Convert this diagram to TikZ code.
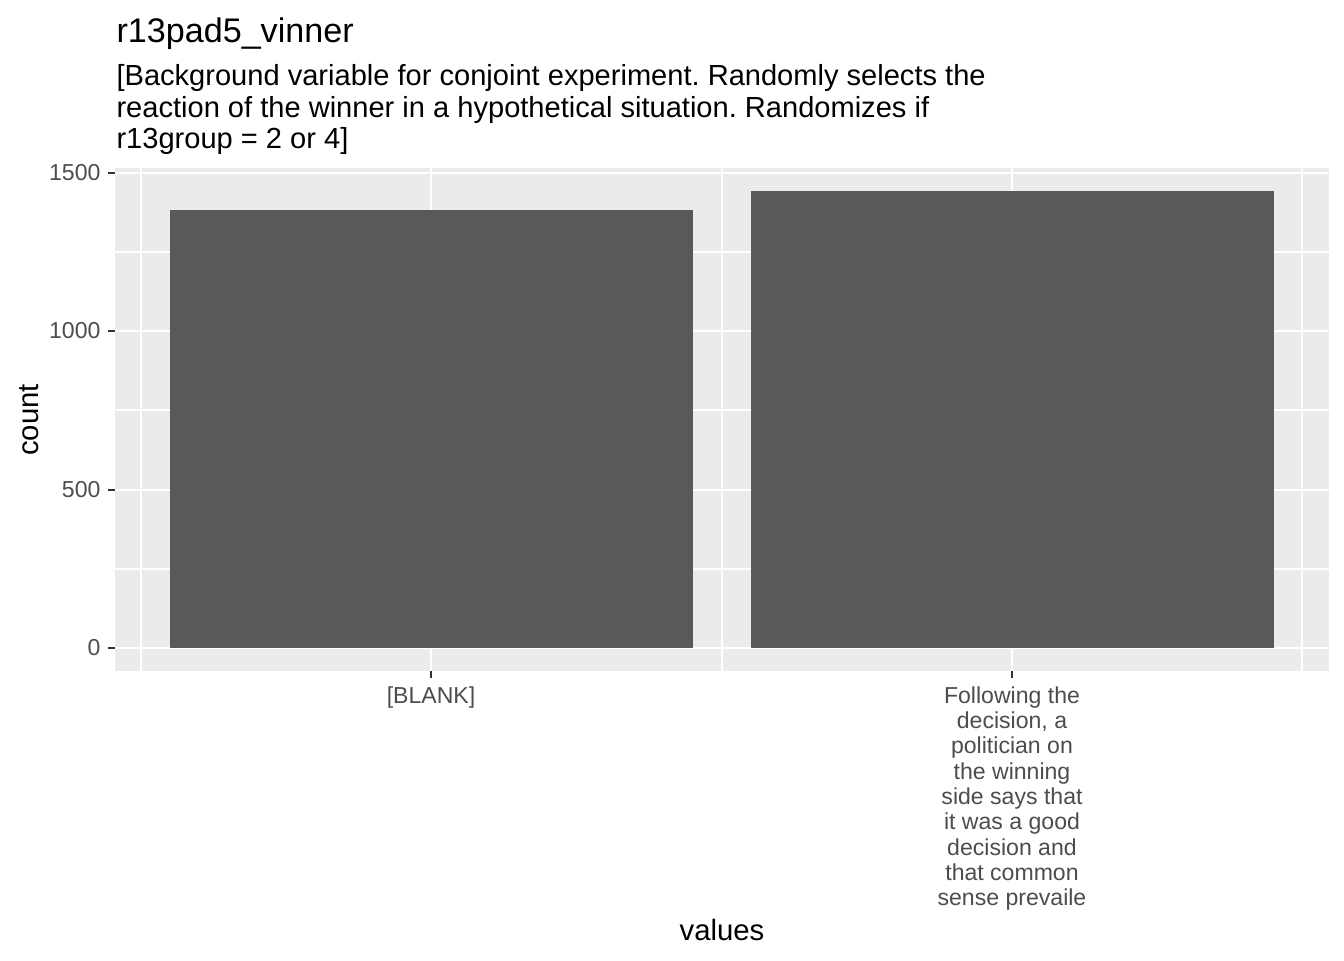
\documentclass[tikz,border=0pt]{standalone}
\usepackage{fontspec}
\setmainfont{Liberation Sans}
\usetikzlibrary{positioning}
\definecolor{panelgrey}{HTML}{EBEBEB}
\definecolor{bargrey}{HTML}{595959}
\definecolor{tickgrey}{HTML}{333333}
\definecolor{labgrey}{HTML}{4D4D4D}
\frenchspacing

\begin{document}
\begin{tikzpicture}[x=0.375pt,y=-0.375pt,
  major/.style={white,line width=0.8pt},
  minor/.style={white,line width=0.45pt},
  tickmark/.style={tickgrey,line width=0.8pt},
  ticklab/.style={labgrey,inner sep=0pt,font=\fontsize{8.65}{9.5}\selectfont},
  bar/.style={fill=bargrey}]
\useasboundingbox[fill=white] (0,0) rectangle (1344,960);
% panel and grid
\fill[panelgrey] (115,168) rectangle (1329,671);
\foreach \y in {252,410,569} \draw[minor] (115,\y) -- (1329,\y);
\foreach \x in {141,722,1302} \draw[minor] (\x,168) -- (\x,671);
\foreach \y in {173,331,490,648} \draw[major] (115,\y) -- (1329,\y);
\foreach \x in {431,1012} \draw[major] (\x,168) -- (\x,671);
% bars
\fill[bar] (170,210) rectangle (693,648);
\fill[bar] (751,191) rectangle (1274,648);
% y axis
\foreach \v/\y in {0/648,500/490,1000/331,1500/173}{
  \draw[tickmark] (107.7,\y) -- (115,\y);
  \node[ticklab,anchor=east] (y\v) at (101,\y) {\v};
}
% x axis
\foreach \x in {431,1012} \draw[tickmark] (\x,671) -- (\x,678);
\node[ticklab,anchor=base] (blank) at (431,703) {[BLANK]};
\node[ticklab,anchor=north,align=center] (follow) at (1012,686)
  {Following the\\decision, a\\politician on\\the winning\\side says that\\it was a good\\decision and\\that common\\sense prevaile};
% titles
\node[anchor=base west,inner sep=0pt,font=\fontsize{12.8}{15}\selectfont] (title) at (116,42) {r13pad5\_vinner};
\node[anchor=north west,inner sep=0pt,align=left,font=\fontsize{10.9}{11.85}\selectfont] (subtitle) at (116,64)
  {[Background variable for conjoint experiment. Randomly selects the\\reaction of the winner in a hypothetical situation. Randomizes if\\r13group = 2 or 4]};
\node[anchor=base,inner sep=0pt,font=\fontsize{11}{13}\selectfont] (xlab) at (722,940) {values};
\node[anchor=base,rotate=90,inner sep=0pt,font=\fontsize{11}{13}\selectfont] (ylab) at (38,420) {count};
\end{tikzpicture}
\end{document}
